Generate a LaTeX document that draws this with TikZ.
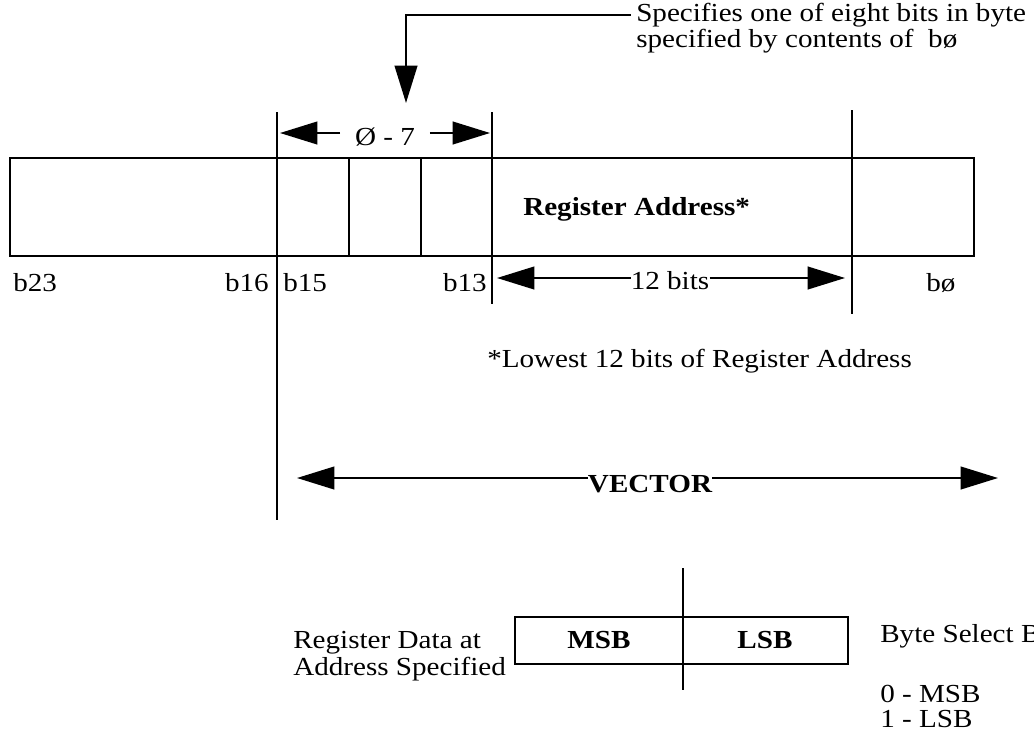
\documentclass[tikz,border=0pt]{standalone}
\usepackage{fontspec}
\setmainfont[FakeStretch=1.12]{Liberation Serif}
\usetikzlibrary{arrows.meta, positioning, calc}
\newcommand{\lblsize}{\fontsize{19.5}{24}\selectfont}

\begin{document}
\begin{tikzpicture}[x=0.75pt, y=-0.75pt,
        field/.style={line width=1.5pt},
        lbl/.style={font=\lblsize, inner sep=0pt},
        bold/.style={font=\lblsize\bfseries, inner sep=0pt},
        arrow/.style={-{Triangle[length=28pt, width=17pt]}, line width=1.5pt},
    ]
    \useasboundingbox (0,0) rectangle (1034,736);

    % 24-bit word
    \draw[field] (10,158) rectangle (974,256);
    \draw[field] (349,158) -- (349,256);
    \draw[field] (421,158) -- (421,256);
    \coordinate (b16top) at (277,112);
    \coordinate (b16bot) at (277,520);
    \coordinate (b13top) at (492,112);
    \coordinate (b13bot) at (492,304);
    \coordinate (b11top) at (852,110);
    \coordinate (b11bot) at (852,314);
    \draw[field] (b16top) -- (b16bot);
    \draw[field] (b13top) -- (b13bot);
    \draw[field] (b11top) -- (b11bot);

    \node[bold, anchor=base west] (regaddr) at (523,215) {Register Address*};
    \node[lbl, anchor=base west] (lb23) at (13,291) {b23};
    \node[lbl, anchor=base east] (lb16) at (269,291) {b16};
    \node[lbl, anchor=base west] (lb15) at (283,291) {b15};
    \node[lbl, anchor=base east] (lb13) at (487,291) {b13};
    \node[lbl, anchor=base west] (lb0)  at (926,291) {bø};

    % bit pointer
    \node[lbl, anchor=base, inner xsep=11pt] (sel) at (385,145) {Ø - 7};
    \coordinate (selL) at (280,133);
    \coordinate (selR) at (490,133);
    \draw[arrow] (sel.west |- selL) -- (selL);
    \draw[arrow] (sel.east |- selR) -- (selR);

    \node[lbl, anchor=base west] (spec1) at (636,21) {Specifies one of eight bits in byte};
    \node[lbl, anchor=base west] (spec2) at (636,47) {specified by contents of~ bø};
    \coordinate (pick) at (406,103);
    \draw[arrow] ([xshift=-4pt]spec1.west) -| (pick);

    % 12 bits
    \node[lbl, anchor=base] (bits) at (670,289) {12 bits};
    \coordinate (bitsL) at (497,278);
    \coordinate (bitsR) at (845,278);
    \draw[arrow] (bits.west |- bitsL) -- (bitsL);
    \draw[arrow] (bits.east |- bitsR) -- (bitsR);

    \node[lbl, anchor=base west] (note) at (487,367) {*Lowest 12 bits of Register Address};

    % vector
    \node[bold, anchor=base] (vec) at (650,492) {VECTOR};
    \coordinate (vecL) at (297,478);
    \coordinate (vecR) at (998,478);
    \draw[arrow] (vec.west |- vecL) -- (vecL);
    \draw[arrow] (vec.east |- vecR) -- (vecR);

    % register data
    \draw[field] (515,617) rectangle (848,664);
    \coordinate (bytetop) at (683,568);
    \coordinate (bytebot) at (683,690);
    \draw[field] (bytetop) -- (bytebot);
    \node[bold, anchor=base] (msb) at (599,648) {MSB};
    \node[bold, anchor=base] (lsb) at (765,648) {LSB};
    \node[lbl, anchor=base west] (regdata)  at (293,648) {Register Data at};
    \node[lbl, anchor=base west] (addrspec) at (293,675) {Address Specified};
    \node[lbl, anchor=base west] (bytesel)  at (880,642) {Byte Select Bit};
    \node[lbl, anchor=base west] (sel0)     at (880,702) {0 - MSB};
    \node[lbl, anchor=base west] (sel1)     at (880,727) {1 - LSB};
\end{tikzpicture}
\end{document}
